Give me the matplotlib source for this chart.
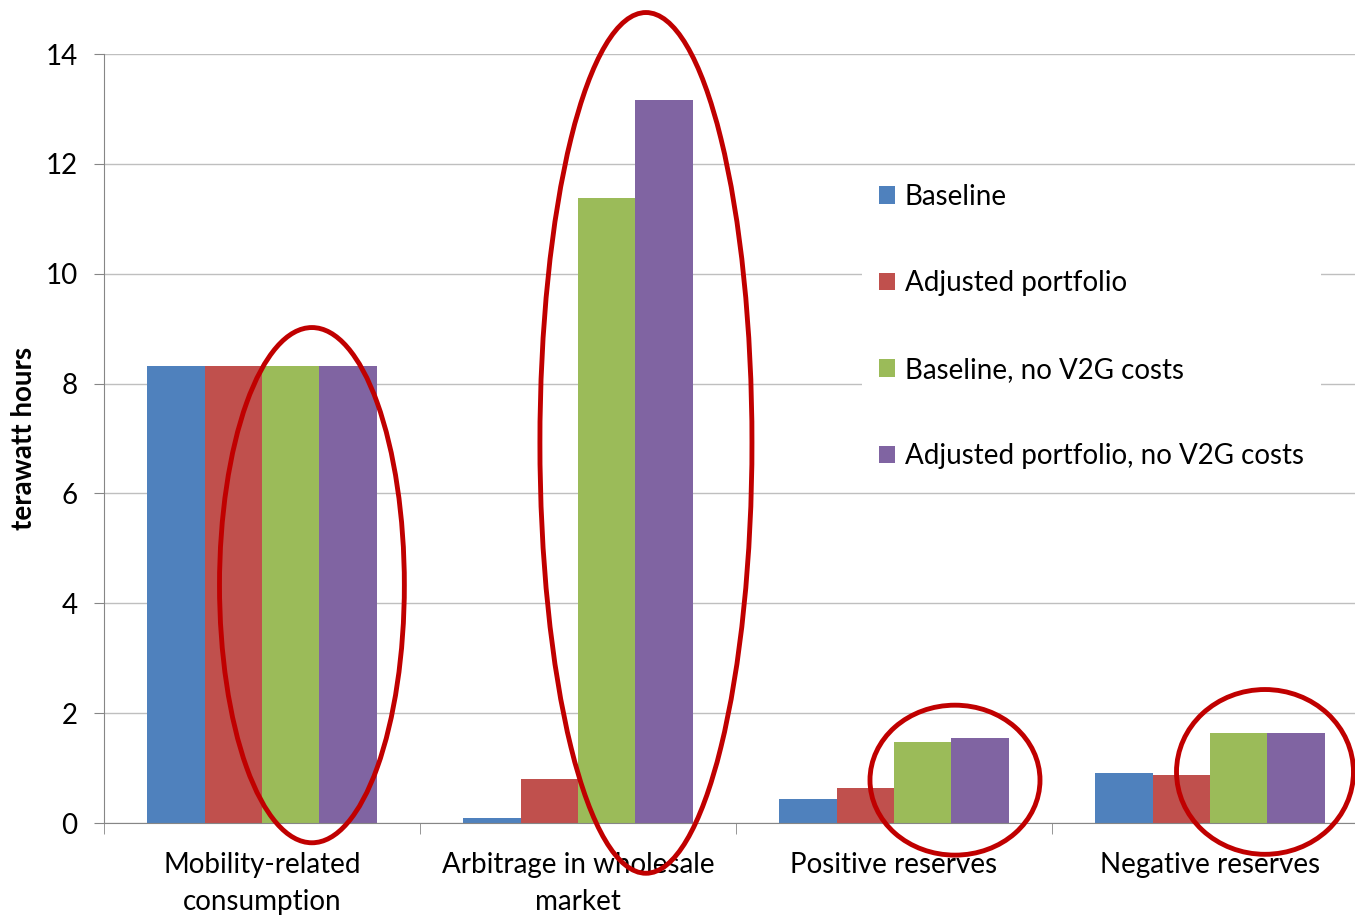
import matplotlib.pyplot as plt
import numpy as np
from matplotlib.patches import Ellipse

categories = ['Mobility-related\nconsumption', 'Arbitrage in wholesale\nmarket',
              'Positive reserves', 'Negative reserves']
series = ['Baseline', 'Adjusted portfolio', 'Baseline, no V2G costs',
          'Adjusted portfolio, no V2G costs']
baseline = [8.32, 0.10, 0.43, 0.91]
adjusted = [8.32, 0.81, 0.64, 0.87]
baseline_nov2g = [8.32, 11.38, 1.47, 1.64]
adjusted_nov2g = [8.32, 13.16, 1.54, 1.64]
colors = ['#4F81BD', '#C0504D', '#9BBB59', '#8064A2']

# highlight rings: (x centre, y centre, width, height) in data units
rings = [(0.158, 4.33, 0.585, 9.38),
         (1.215, 6.92, 0.671, 15.67),
         (2.193, 0.78, 0.538, 2.73),
         (3.174, 0.93, 0.56, 3.0)]

plt.rcParams['font.family'] = ['Lato', 'DejaVu Sans']

fig = plt.figure(figsize=(13.55, 9.16), dpi=100)
ax = fig.add_axes([104 / 1355, 93 / 916, 1264 / 1355, 769 / 916])

x = np.arange(len(categories))
w = 0.1815
for j, (vals, name) in enumerate(zip([baseline, adjusted, baseline_nov2g, adjusted_nov2g], series)):
    ax.bar(x + (j - 1.5) * w, vals, w, color=colors[j], label=name, zorder=2)

for cx, cy, ew, eh in rings:
    ax.add_patch(Ellipse((cx, cy), ew, eh, fill=False, edgecolor='#C00000',
                         linewidth=3.5, zorder=5, clip_on=False))

ax.set_xlim(-0.5, 3.5)
ax.set_ylim(0, 14)
ax.set_yticks(np.arange(0, 15, 2))
ax.grid(axis='y', color='#BFBFBF', linewidth=1.0, zorder=0)
ax.set_axisbelow(True)

ax.set_xticks(x)
ax.set_xticklabels(categories, fontsize=20, linespacing=1.5)
ax.set_xticks(np.arange(-0.5, 3.6, 1), minor=True)
ax.tick_params(axis='x', which='major', length=0, pad=21)
ax.tick_params(axis='x', which='minor', length=8, color='#868686')
ax.tick_params(axis='y', labelsize=20, length=7, pad=12, color='#868686')

for s in ['top', 'right']:
    ax.spines[s].set_visible(False)
for s in ['left', 'bottom']:
    ax.spines[s].set_color('#868686')

ax.set_ylabel('terawatt hours', fontsize=20, fontweight='bold', labelpad=6)

leg = ax.legend(loc='upper left', bbox_to_anchor=(848 / 1355, 1 - 153 / 916),
                bbox_transform=fig.transFigure, fontsize=20, frameon=True,
                labelspacing=2.18, handlelength=0.6, handleheight=0.6,
                handletextpad=0.35, borderpad=0.6, fancybox=False)
leg.get_frame().set_edgecolor('none')
leg.get_frame().set_facecolor('white')
leg.get_frame().set_alpha(1)

fig.savefig('out.png', dpi=100)
